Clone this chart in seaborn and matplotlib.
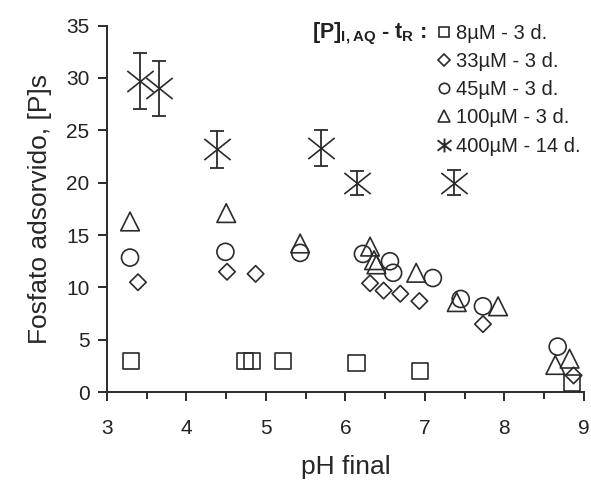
import numpy as np
import matplotlib
matplotlib.use('Agg')
import matplotlib.pyplot as plt
import seaborn as sns
from matplotlib.path import Path
from matplotlib.lines import Line2D

# pH final / adsorbed phosphate for each series
ph_8 = [3.30, 4.74, 4.82, 5.21, 6.14, 6.94, 8.85]
p_8 = [3.0, 3.0, 3.0, 3.0, 2.8, 2.0, 0.9]

ph_33 = [3.39, 4.51, 4.87, 6.31, 6.48, 6.69, 6.93, 7.73, 8.87]
p_33 = [10.5, 11.5, 11.3, 10.4, 9.7, 9.4, 8.7, 6.5, 1.6]

ph_45 = [3.29, 4.49, 5.43, 6.22, 6.56, 6.60, 7.10, 7.45, 7.73, 8.67]
p_45 = [12.85, 13.4, 13.3, 13.2, 12.5, 11.4, 10.9, 8.9, 8.2, 4.35]

ph_100 = [3.29, 4.50, 5.43, 6.31, 6.36, 6.39, 6.89, 7.40, 7.92, 8.64, 8.82]
p_100 = [16.3, 17.1, 14.2, 13.9, 12.6, 12.2, 11.4, 8.6, 8.2, 2.6, 3.2]

ph_400 = [3.42, 3.65, 4.39, 5.69, 6.14, 7.36]
p_400 = [29.7, 29.0, 23.2, 23.3, 20.0, 20.0]
err_400 = [2.65, 2.6, 1.75, 1.75, 1.15, 1.2]

labels = ['8µM - 3 d.', '33µM - 3 d.', '45µM - 3 d.', '100µM - 3 d.', '400µM - 14 d.']

sns.set_style('ticks')
plt.rcParams['font.family'] = ['Liberation Sans', 'DejaVu Sans']
plt.rcParams['mathtext.fontset'] = 'custom'
plt.rcParams['mathtext.rm'] = 'Liberation Sans'
plt.rcParams['mathtext.bf'] = 'Liberation Sans:bold'

ink = '#2b2b2b'

# asterisk made of an X plus a vertical bar
star = Path([(-1, -0.75), (1, 0.75), (-1, 0.75), (1, -0.75), (0, -1), (0, 1)],
            [Path.MOVETO, Path.LINETO, Path.MOVETO, Path.LINETO, Path.MOVETO, Path.LINETO])
xmark = Path([(-1, -0.8), (1, 0.8), (-1, 0.8), (1, -0.8)],
             [Path.MOVETO, Path.LINETO, Path.MOVETO, Path.LINETO])

fig = plt.figure(figsize=(5.91, 4.83), dpi=100)
ax = fig.add_axes([0.181, 0.188, 0.807, 0.759])

kw = dict(facecolor='none', edgecolor=ink, linewidth=1.2, ax=ax, legend=False)
sns.scatterplot(x=ph_8, y=p_8, marker='s', s=135, **kw)
sns.scatterplot(x=ph_33, y=p_33, marker='D', s=70, **kw)
sns.scatterplot(x=ph_45, y=p_45, marker='o', s=150, **kw)
sns.scatterplot(x=ph_100, y=p_100, marker='^', s=180, **kw)
ax.errorbar(ph_400, p_400, yerr=err_400, fmt='none', ecolor=ink, elinewidth=1.3,
            capsize=5, capthick=1.3)
ax.plot(ph_400, p_400, ls='none', marker=xmark, ms=19, mec=ink, mew=1.2)

ax.set_xlim(3, 9)
ax.set_ylim(0, 35)
ax.set_xticks(range(3, 10))
ax.set_xticks(np.arange(3.5, 9, 1), minor=True)
ax.set_yticks(range(0, 36, 5))
sns.despine(ax=ax)
for s in ['left', 'bottom']:
    ax.spines[s].set_linewidth(1.4)
    ax.spines[s].set_color(ink)
ax.tick_params(axis='both', which='major', length=6.5, width=1.4, color=ink,
               labelsize=15, labelcolor='#222222')
ax.tick_params(axis='x', which='major', pad=13)
ax.tick_params(axis='x', which='minor', length=5, width=1.4, color=ink)
ax.tick_params(axis='y', pad=6)
ax.set_xlabel('pH final', fontsize=19, labelpad=12)
ax.set_ylabel('Fosfato adsorvido, [P]s', fontsize=19, labelpad=10)

handles = [
    Line2D([], [], ls='none', marker='s', ms=7.5, mfc='none', mec=ink, mew=1.2),
    Line2D([], [], ls='none', marker='D', ms=6, mfc='none', mec=ink, mew=1.2),
    Line2D([], [], ls='none', marker='o', ms=7.5, mfc='none', mec=ink, mew=1.2),
    Line2D([], [], ls='none', marker='^', ms=8, mfc='none', mec=ink, mew=1.2),
    Line2D([], [], ls='none', marker=star, ms=10, mec=ink, mew=1.4),
]
leg = ax.legend(handles, labels, loc='upper left', bbox_to_anchor=(0.738, 0.951),
                bbox_transform=fig.transFigure, frameon=False, fontsize=14.5,
                handlelength=0.8, handletextpad=0.2, labelspacing=0.46,
                borderpad=0, borderaxespad=0)
for t in leg.get_texts():
    t.set_color('#222222')
fig.text(0.722, 1 - 34 / 483, r'[P]$\mathbf{_{I,AQ}}$ - t$\mathbf{_R}$ :', ha='right',
         va='center', fontsize=15.5, fontweight='bold', color='#222222')

fig.savefig('out.png', dpi=100)
